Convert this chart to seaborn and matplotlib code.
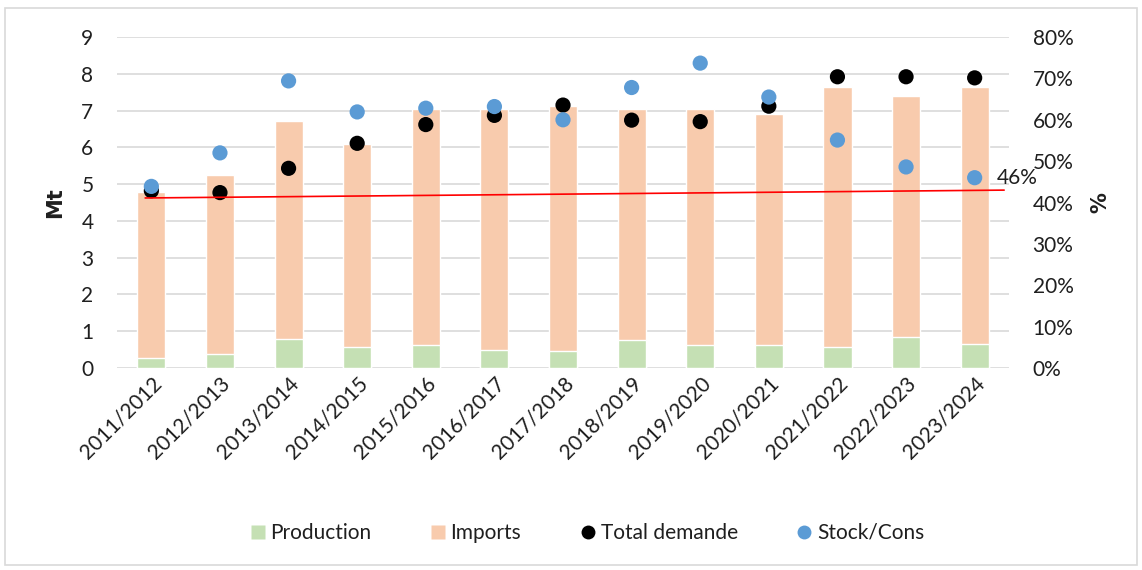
import numpy as np
import pandas as pd
import matplotlib
matplotlib.use("Agg")
import matplotlib.pyplot as plt
from matplotlib.lines import Line2D
from matplotlib.patches import Rectangle
from matplotlib.ticker import PercentFormatter
import seaborn as sns

# Marketing years
seasons = ["2011/2012", "2012/2013", "2013/2014", "2014/2015", "2015/2016",
           "2016/2017", "2017/2018", "2018/2019", "2019/2020", "2020/2021",
           "2021/2022", "2022/2023", "2023/2024"]
# Supply (Mt)
production = [0.27, 0.39, 0.80, 0.56, 0.62, 0.50, 0.46, 0.77, 0.62, 0.62, 0.56, 0.83, 0.66]
imports = [4.52, 4.86, 5.91, 5.54, 6.43, 6.55, 6.66, 6.28, 6.43, 6.29, 7.08, 6.57, 6.98]
# Total demand (Mt)
total_demande = [4.82, 4.77, 5.43, 6.11, 6.62, 6.87, 7.15, 6.74, 6.70, 7.12, 7.92, 7.92, 7.89]
# Stock-to-consumption ratio
stock_cons = [0.439, 0.520, 0.694, 0.619, 0.628, 0.632, 0.600, 0.678, 0.737, 0.655,
              0.551, 0.486, 0.46]
# Reference line on the ratio axis (start / end values)
ref_line = [0.411, 0.430]

df = pd.DataFrame({
    "season": seasons,
    "production": production,
    "imports": imports,
    "total_demande": total_demande,
    "stock_cons": stock_cons,
})
df["supply"] = df["production"] + df["imports"]
df["pos"] = np.arange(len(df))

sns.set_theme(style="white")
plt.rcParams["font.family"] = ["Lato", "DejaVu Sans"]

c_prod = "#C5E0B4"
c_imp = "#F8CBAD"
c_dem = "#000000"
c_stock = "#5B9BD5"
c_grid = "#D9D9D9"
c_text = "#1f1f1f"

fig = plt.figure(figsize=(11.42, 5.70), dpi=100)
ax = fig.add_axes([0.1025, 0.3544, 0.781, 0.5806])

# Stacked bars: full supply height first, production drawn over its base
sns.barplot(data=df, x="season", y="supply", color=c_imp, width=0.41,
            saturation=1, ax=ax, zorder=2)
sns.barplot(data=df, x="season", y="production", color=c_prod, width=0.41,
            saturation=1, ax=ax, zorder=3)
sns.scatterplot(data=df, x="pos", y="total_demande", color=c_dem, s=120,
                edgecolor="none", ax=ax, zorder=5, legend=False)

ax.set_xlim(-0.5, len(df) - 0.5)
ax.set_ylim(0, 9)
ax.set_yticks(range(0, 10))
ax.grid(axis="y", color=c_grid, linewidth=1.2, zorder=0)
ax.set_axisbelow(True)
for s in ax.spines.values():
    s.set_visible(False)
ax.tick_params(axis="both", length=0, labelsize=15, colors=c_text)
ax.tick_params(axis="y", pad=17)
ax.tick_params(axis="x", pad=4)
plt.setp(ax.get_xticklabels(), rotation=45, ha="right", rotation_mode="anchor")
ax.set_xlabel("")
ax.set_ylabel("Mt", fontsize=15, fontweight="bold", family="DejaVu Sans",
              color=c_text, labelpad=12)

ax2 = ax.twinx()
ref_x = [-0.09, len(df) - 0.57]
ax2.plot(ref_x, ref_line, color="#FF0000", linewidth=1.2, zorder=4)
sns.scatterplot(data=df, x="pos", y="stock_cons", color=c_stock, s=120,
                edgecolor="none", ax=ax2, zorder=6, legend=False)
ax2.set_xlim(-0.5, len(df) - 0.5)
ax2.set_ylim(0, 0.8)
ax2.set_yticks(np.arange(0, 0.81, 0.1))
ax2.yaxis.set_major_formatter(PercentFormatter(1.0, decimals=0))
ax2.tick_params(axis="y", length=0, labelsize=15, colors=c_text, pad=17)
for s in ax2.spines.values():
    s.set_visible(False)
ax2.grid(False)
ax2.set_xlabel("")
ax2.set_ylabel("%", fontsize=15, fontweight="bold", family="DejaVu Sans",
               color=c_text, labelpad=12)

last = df.iloc[-1]
ax2.annotate(f"{last['stock_cons']:.0%}", xy=(last["pos"], last["stock_cons"]),
             xytext=(16, 0), textcoords="offset points", ha="left", va="center",
             fontsize=15, color=c_text, zorder=7)

handles = [
    Line2D([], [], marker="s", linestyle="none", markersize=10,
           markerfacecolor=c_prod, markeredgecolor="none"),
    Line2D([], [], marker="s", linestyle="none", markersize=10,
           markerfacecolor=c_imp, markeredgecolor="none"),
    Line2D([], [], marker="o", linestyle="none", markersize=10,
           markerfacecolor=c_dem, markeredgecolor="none"),
    Line2D([], [], marker="o", linestyle="none", markersize=10,
           markerfacecolor=c_stock, markeredgecolor="none"),
]
fig.legend(handles, ["Production", "Imports", "Total demande", "Stock/Cons"],
           loc="center", bbox_to_anchor=(0.512, 0.065), ncol=4, frameon=False,
           fontsize=15, handletextpad=0.0, handlelength=1.2, columnspacing=2.6,
           labelcolor=c_text)

# Chart frame
fig.patches.append(Rectangle((0.004, 0.008), 0.992, 0.978, transform=fig.transFigure,
                             fill=False, edgecolor=c_grid, linewidth=1.2))

fig.savefig("out.png", dpi=100)
